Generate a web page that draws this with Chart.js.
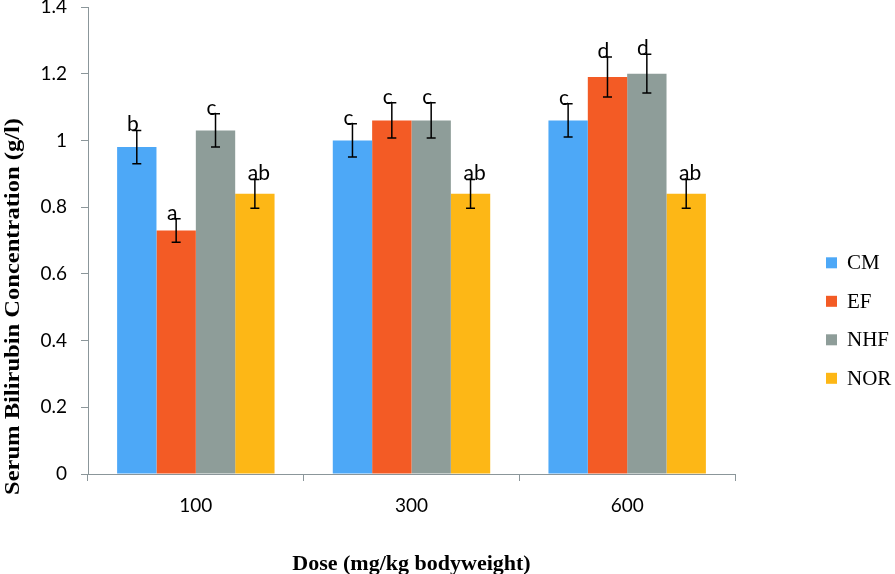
<!DOCTYPE html>
<html><head><meta charset="utf-8">
<script src="https://cdn.jsdelivr.net/npm/chart.js@4/dist/chart.umd.min.js"></script>
<style>html,body{margin:0;padding:0;background:#fff;} #wrap{width:895px;height:574px;position:relative;}</style>
</head><body><div id="wrap"><canvas id="c" width="895" height="574"></canvas></div>
<script>
const categories = ['100', '300', '600'];
const seriesNames = ['CM', 'EF', 'NHF', 'NOR'];
const cmValues = [0.98, 1.00, 1.06];
const efValues = [0.73, 1.06, 1.19];
const nhfValues = [1.03, 1.06, 1.20];
const norValues = [0.84, 0.84, 0.84];
const cmErrors = [0.05, 0.05, 0.05];
const efErrors = [0.035, 0.053, 0.06];
const nhfErrors = [0.05, 0.053, 0.058];
const norErrors = [0.043, 0.043, 0.043];
const cmLetters = ['b', 'c', 'c'];
const efLetters = ['a', 'c', 'd'];
const nhfLetters = ['c', 'c', 'd'];
const norLetters = ['ab', 'ab', 'ab'];
const yTickLabels = ['0', '0.2', '0.4', '0.6', '0.8', '1', '1.2', '1.4'];
const xAxisTitle = 'Dose (mg/kg bodyweight)';
const yAxisTitle = 'Serum Bilirubin Concentration (g/l)';

const colors = ['#4DA8F7', '#F35B25', '#8E9D99', '#FDB716'];
const axisGrey = '#8B969A';
const allValues = [cmValues, efValues, nhfValues, norValues];
const allErrors = [cmErrors, efErrors, nhfErrors, norErrors];
const allLetters = [cmLetters, efLetters, nhfLetters, norLetters];

const extrasPlugin = {
  id: 'extras',
  afterDatasetsDraw(chart) {
    const ctx = chart.ctx;
    const ys = chart.scales.y;
    ctx.save();
    chart.data.datasets.forEach((ds, i) => {
      const meta = chart.getDatasetMeta(i);
      meta.data.forEach((bar, j) => {
        const v = ds.data[j];
        const e = allErrors[i][j];
        const x = bar.x;
        const yt = ys.getPixelForValue(v + e);
        const yb = ys.getPixelForValue(v - e);
        ctx.strokeStyle = '#000';
        ctx.lineWidth = 1.5;
        ctx.beginPath();
        ctx.moveTo(x, yt); ctx.lineTo(x, yb);
        ctx.moveTo(x - 4.5, yt); ctx.lineTo(x + 4.5, yt);
        ctx.moveTo(x - 4.5, yb); ctx.lineTo(x + 4.5, yb);
        ctx.stroke();
        const t = allLetters[i][j];
        ctx.fillStyle = '#000';
        ctx.font = '21px Lato';
        ctx.textAlign = 'center';
        ctx.textBaseline = 'alphabetic';
        ctx.fillText(t, x + (t.length > 1 ? 4 : -4), yt + 1);
      });
    });
    ctx.restore();
  },
  afterDraw(chart) {
    const ctx = chart.ctx;
    ctx.save();
    chart.data.datasets.forEach((ds, i) => {
      const cy = 262.8 + 38.5 * i;
      ctx.fillStyle = ds.backgroundColor;
      ctx.fillRect(826, cy - 5.5, 11, 11);
      ctx.fillStyle = '#000';
      ctx.font = '21px "Liberation Serif"';
      ctx.textAlign = 'left';
      ctx.textBaseline = 'middle';
      ctx.fillText(ds.label, 847, cy + 1);
    });
    ctx.font = 'bold 22px "Liberation Serif"';
    ctx.textAlign = 'center';
    ctx.textBaseline = 'alphabetic';
    ctx.fillText(xAxisTitle, (chart.chartArea.left + chart.chartArea.right) / 2, 570);
    ctx.font = 'bold 21px "Liberation Serif"';
    const w = ctx.measureText(yAxisTitle).width;
    const s = 377 / w;
    ctx.translate(18.5, 306.5);
    ctx.rotate(-Math.PI / 2);
    ctx.scale(s, 1);
    ctx.fillText(yAxisTitle, 0, 0);
    ctx.restore();
  }
};

new Chart(document.getElementById('c'), {
  type: 'bar',
  data: {
    labels: categories,
    datasets: seriesNames.map((n, i) => ({
      label: n,
      data: allValues[i],
      backgroundColor: colors[i],
      borderWidth: 0,
      categoryPercentage: 0.73,
      barPercentage: 1.0
    }))
  },
  options: {
    responsive: false,
    animation: false,
    devicePixelRatio: 1,
    layout: { padding: { top: 7, right: 160, bottom: 0, left: 0 } },
    plugins: { legend: { display: false }, tooltip: { enabled: false } },
    scales: {
      x: {
        type: 'category',
        offset: true,
        grid: { offset: true, drawOnChartArea: false, drawTicks: true, tickLength: 7, color: axisGrey, lineWidth: 1 },
        border: { color: axisGrey, width: 1 },
        ticks: { font: { family: 'Lato', size: 19 }, color: '#000', padding: 13, maxRotation: 0 },
        afterFit(s) { s.height = 100; s.paddingLeft = 0; s.paddingRight = 0; }
      },
      y: {
        min: 0, max: 1.4,
        grid: { drawOnChartArea: false, drawTicks: true, tickLength: 7, color: axisGrey, lineWidth: 1 },
        border: { color: axisGrey, width: 1 },
        ticks: { stepSize: 0.2, font: { family: 'Lato', size: 19 }, color: '#000', padding: 14,
          callback: (v, i) => yTickLabels[i] },
        afterFit(s) { s.width = 88; s.paddingTop = 0; s.paddingBottom = 0; }
      }
    }
  },
  plugins: [extrasPlugin]
});
</script>
</body></html>
